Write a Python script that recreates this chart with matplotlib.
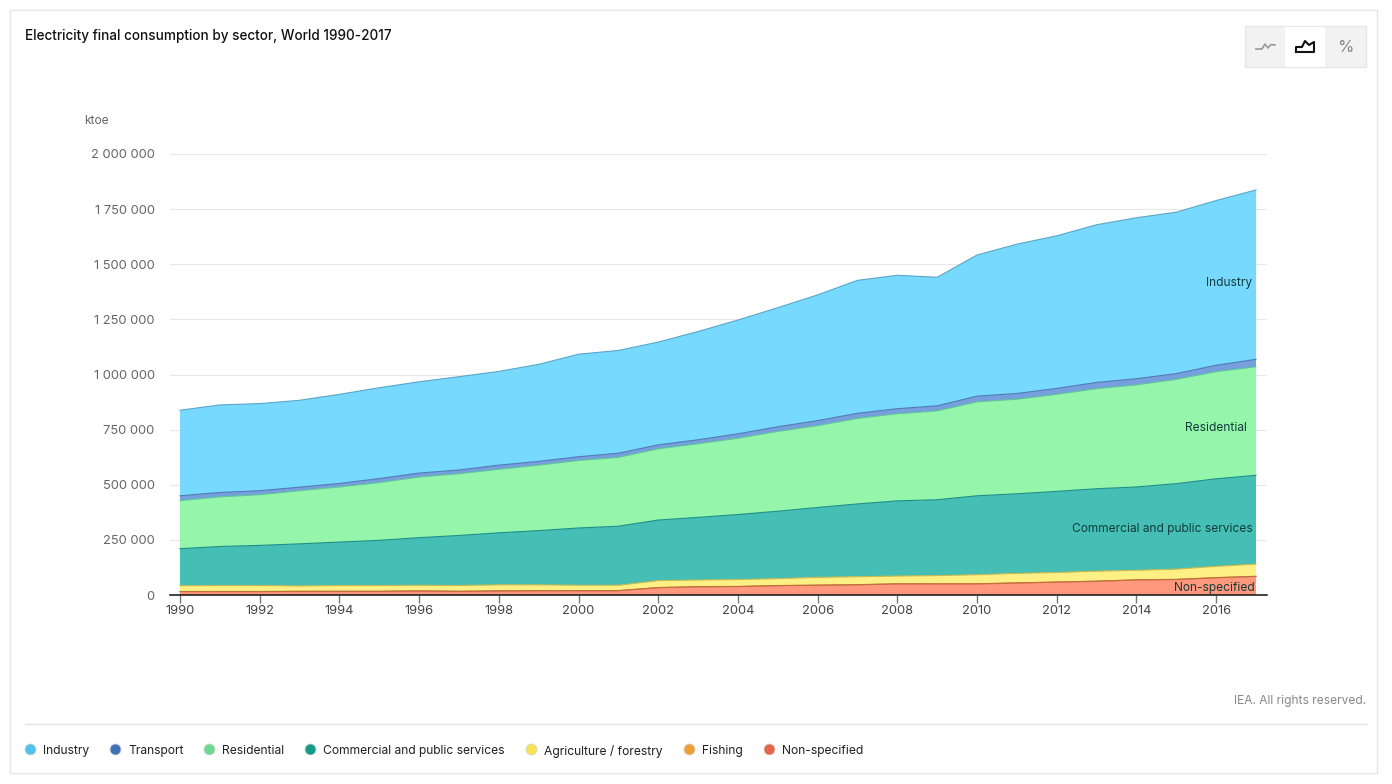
import matplotlib
matplotlib.use("Agg")
import matplotlib.pyplot as plt
from matplotlib.patches import Rectangle

plt.rcParams["font.family"] = ["Inter", "DejaVu Sans"]

W, H = 1392, 784

years = list(range(1990, 2018))

# 单位: 千 ktoe, 从图上读的
non_specified = [15, 15, 15, 16, 16, 16, 18, 16, 18, 19, 19, 19, 33, 37, 38, 42, 44, 46, 50, 50, 50, 54, 58, 62, 68, 70, 78, 84]
fishing = [1] * 28
agriculture = [26, 27, 27, 24, 26, 26, 25, 26, 27, 26, 24, 24, 31, 30, 31, 31, 35, 36, 35, 37, 41, 43, 43, 45, 43, 46, 51, 55]
commercial = [168, 177, 182, 191, 197, 205, 216, 227, 236, 246, 260, 268, 275, 284, 295, 306, 317, 330, 341, 344, 358, 361, 368, 374, 378, 388, 397, 403]
residential = [218, 225, 230, 241, 250, 262, 275, 280, 288, 297, 306, 312, 323, 334, 346, 362, 371, 388, 395, 403, 426, 429, 440, 454, 463, 473, 486, 492]
transport = [22, 20, 18, 16, 16, 18, 18, 17, 19, 17, 17, 19, 18, 18, 20, 21, 23, 23, 23, 23, 26, 26, 27, 28, 28, 26, 29, 34]
industry = [388, 397, 395, 394, 404, 412, 414, 423, 425, 440, 465, 466, 466, 491, 516, 540, 570, 603, 605, 583, 640, 677, 692, 715, 730, 732, 747, 768]

y_ticks = [0, 250000, 500000, 750000, 1000000, 1250000, 1500000, 1750000, 2000000]
y_labels = ["0", "250 000", "500 000", "750 000", "1 000 000", "1 250 000", "1 500 000", "1 750 000", "2 000 000"]
x_ticks = list(range(1990, 2017, 2))

legend_names = ["Industry", "Transport", "Residential", "Commercial and public services",
                "Agriculture / forestry", "Fishing", "Non-specified"]
legend_colors = ["#4fc3ee", "#3f72b8", "#6ddb8e", "#149a8a", "#f7e34f", "#f0a030", "#e8644a"]
fill_colors = ["#72d8ff", "#6f9bdc", "#90f5a8", "#3dbdb2", "#fff080", "#f8b060", "#ff9478"]
line_colors = ["#5aa6c8", "#4f7ab8", "#5fc49a", "#1f8f86", "#c9b84f", "#b8743a", "#e8644a"]
legend_x = [25, 110, 204, 305, 526, 684, 764]

fig = plt.figure(figsize=(W / 100, H / 100), dpi=100, facecolor="white")

# 全图像素坐标层，放边框、按钮、图例
bg = fig.add_axes([0, 0, 1, 1])
bg.set_xlim(0, W)
bg.set_ylim(H, 0)
bg.axis("off")
bg.add_patch(Rectangle((10, 9.5), 1367, 763, fc="white", ec="#e6e6e6", lw=1))
bg.plot([25, 1367], [724, 724], color="#e3e3e3", lw=1)

# 右上角三个按钮
bg.add_patch(Rectangle((1245, 26), 121, 41, fc="#f2f2f2", ec="#e6e6e6", lw=1))
bg.add_patch(Rectangle((1285, 26.5), 40, 40, fc="white", ec="none"))
bg.plot([1256, 1262, 1265, 1268, 1271, 1275], [49, 49, 44, 48, 44.5, 45], color="#999999", lw=1.2)
bg.plot([1296, 1296, 1302, 1305, 1309, 1314, 1314, 1296],
        [52, 47, 47, 41, 45, 42, 52, 52], color="#111111", lw=1.5)
bg.text(1345, 47, "%", fontsize=12, color="#888888", ha="center", va="center")

bg.text(25, 36, "Electricity final consumption by sector, World 1990-2017",
        fontsize=9.75, fontweight="medium", color="#111111", va="center")
bg.text(84, 121, "ktoe", fontsize=8.6, color="#666666", va="center")
bg.text(1366, 701, "IEA. All rights reserved.", fontsize=8.6, color="#888888",
        ha="right", va="center")

for name, col, lx in zip(legend_names, legend_colors, legend_x):
    bg.scatter([lx + 5], [748.5], s=62, color=col, edgecolors="#cfcfcf", linewidths=0.5)
    bg.text(lx + 18, 749.5, name, fontsize=8.7, color="#222222", va="center_baseline")

# 主图
left, right, top, bottom = 170, 1267, 154, 595
ax = fig.add_axes([left / W, 1 - bottom / H, (right - left) / W, (bottom - top) / H])
ax.patch.set_alpha(0)

ax.set_xlim(1990 - 10 / 39.85, 2017 + 11 / 39.85)
ax.set_ylim(0, 2000000)

ax.set_yticks(y_ticks)
ax.set_yticklabels(y_labels)
ax.set_xticks(x_ticks)
ax.tick_params(axis="y", length=0, pad=11, labelsize=9.3, labelcolor="#666666")
ax.tick_params(axis="x", length=6, width=1, color="#777777", pad=1, labelsize=9.3, labelcolor="#444444")
ax.grid(axis="y", color="#e8e8e8", lw=0.9)
ax.set_axisbelow(True)
for s in ["top", "left", "right"]:
    ax.spines[s].set_visible(False)
ax.spines["bottom"].set_color("#111111")
ax.spines["bottom"].set_linewidth(1.1)
ax.spines["bottom"].set_zorder(5)

series = [non_specified, fishing, agriculture, commercial, residential, transport, industry]
scaled = [[v * 1000 for v in s] for s in series]
ax.stackplot(years, *scaled, colors=fill_colors[::-1], alpha=0.96, edgecolor="none", zorder=2)

# 每层上沿的细线
cum = [0] * len(years)
for s, c in zip(scaled, line_colors[::-1]):
    cum = [a + b for a, b in zip(cum, s)]
    ax.plot(years, cum, color=c, lw=0.8, zorder=3)

for txt, yv, xv in [("Industry", 1414000, 2016.9), ("Residential", 757000, 2016.78),
                    ("Commercial and public services", 299000, 2016.92),
                    ("Non-specified", 33000, 2016.98)]:
    ax.text(xv, yv, txt, fontsize=8.6, color="#123c3c", ha="right", va="center", zorder=4)

fig.savefig("out.png", dpi=100)
